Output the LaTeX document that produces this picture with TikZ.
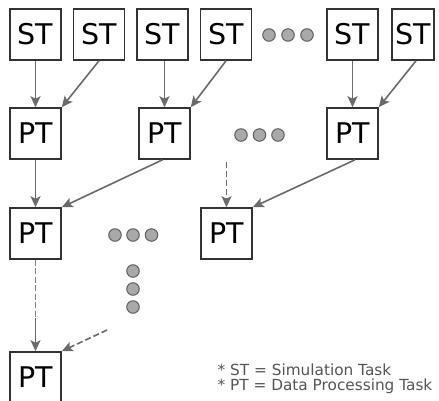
\documentclass[tikz,border=0pt]{standalone}
\usepackage{fontspec}
\setmainfont{DejaVu Sans}
\usetikzlibrary{arrows.meta}
\definecolor{boxline}{HTML}{333333}
\definecolor{arrowline}{HTML}{6A6A6A}
\definecolor{dotfill}{HTML}{A9A9A9}
\definecolor{dotline}{HTML}{5E5E5E}
\definecolor{legendtext}{HTML}{555555}
\begin{document}
\begin{tikzpicture}[x=1pt,y=-1pt,
  task/.style={draw=boxline, line width=1.6pt, fill=white, minimum width=51pt,
    minimum height=51pt, inner sep=0pt, font=\fontsize{28.5}{30}\selectfont},
  flow/.style={draw=arrowline, line width=1.6pt,
    -{Stealth[length=11pt,width=10pt,inset=2.5pt]}},
  flowdash/.style={flow, dash pattern=on 6pt off 3pt},
  plainline/.style={draw=arrowline!85, line width=1.6pt, dash pattern=on 6pt off 2.5pt},
  dot/.style={circle, draw=dotline, fill=dotfill, line width=1pt,
    minimum size=12.5pt, inner sep=0pt},
  legend/.style={anchor=base west, inner sep=0pt, text=legendtext,
    font=\fontsize{15.3}{17}\selectfont}]
\useasboundingbox (0,0) rectangle (439,401);
\clip (0,0) rectangle (439,401);

% simulation tasks
\node[task] (st1) at (35.5,34.5) {ST};
\node[task] (st2) at (99,34.5) {ST};
\node[task] (st3) at (162.5,34.5) {ST};
\node[task] (st4) at (226,34.5) {ST};
\node[task] (st5) at (352.5,34.5) {ST};
\node[task, minimum width=42pt] (st6) at (413,34.5) {ST};

% first level of data processing tasks
\node[task] (pa) at (35.5,133.5) {PT};
\node[task] (pb) at (164.5,133.5) {PT};
\node[task] (pc) at (352.5,133.5) {PT};

% second level
\node[task] (qa) at (35.5,233.5) {PT};
\node[task] (qb) at (226.5,233.5) {PT};

% final task
\node[task] (ra) at (35.5,377.5) {PT};

% ellipsis dots
\node[dot] (d1) at (269,35) {};
\node[dot] (d2) at (288,35) {};
\node[dot] (d3) at (307,35) {};
\node[dot] (e1) at (241,135) {};
\node[dot] (e2) at (259.5,135) {};
\node[dot] (e3) at (278,135) {};
\node[dot] (f1) at (115,235) {};
\node[dot] (f2) at (133,235) {};
\node[dot] (f3) at (151.5,235) {};
\node[dot] (g1) at (133,271) {};
\node[dot] (g2) at (133,289) {};
\node[dot] (g3) at (133,307) {};

% free ends of the open connectors
\coordinate (inb) at (226.5,162);
\coordinate (mid) at (35.5,318);
\coordinate (ina) at (107,330);

% connectors
\draw[flow] (st1.south) -- (pa.north);
\draw[flow] (st2.south) -- (pa.north east);
\draw[flow] (st3.south -| pb.north) -- (pb.north);
\draw[flow] (st4.south) -- (pb.north east);
\draw[flow] (st5.south) -- (pc.north);
\draw[flow] ([xshift=3pt]st6.south) -- (pc.north east);
\draw[flow] (pa.south) -- (qa.north);
\draw[flow] ([xshift=-2pt]pb.south) -- (qa.north east);
\draw[flow] ([xshift=2.5pt]pc.south) -- (qb.north east);
\draw[flowdash] (inb) -- (qb.north);
\draw[plainline] (qa.south) -- (mid);
\draw[flow] (mid) -- (ra.north);
\draw[flowdash] (ina) -- (ra.north east);

% legend
\node[legend] (l1) at (217.5,375.5) {* ST = Simulation Task};
\node[legend] (l2) at (217.5,390.5) {* PT = Data Processing Task};
\end{tikzpicture}
\end{document}
